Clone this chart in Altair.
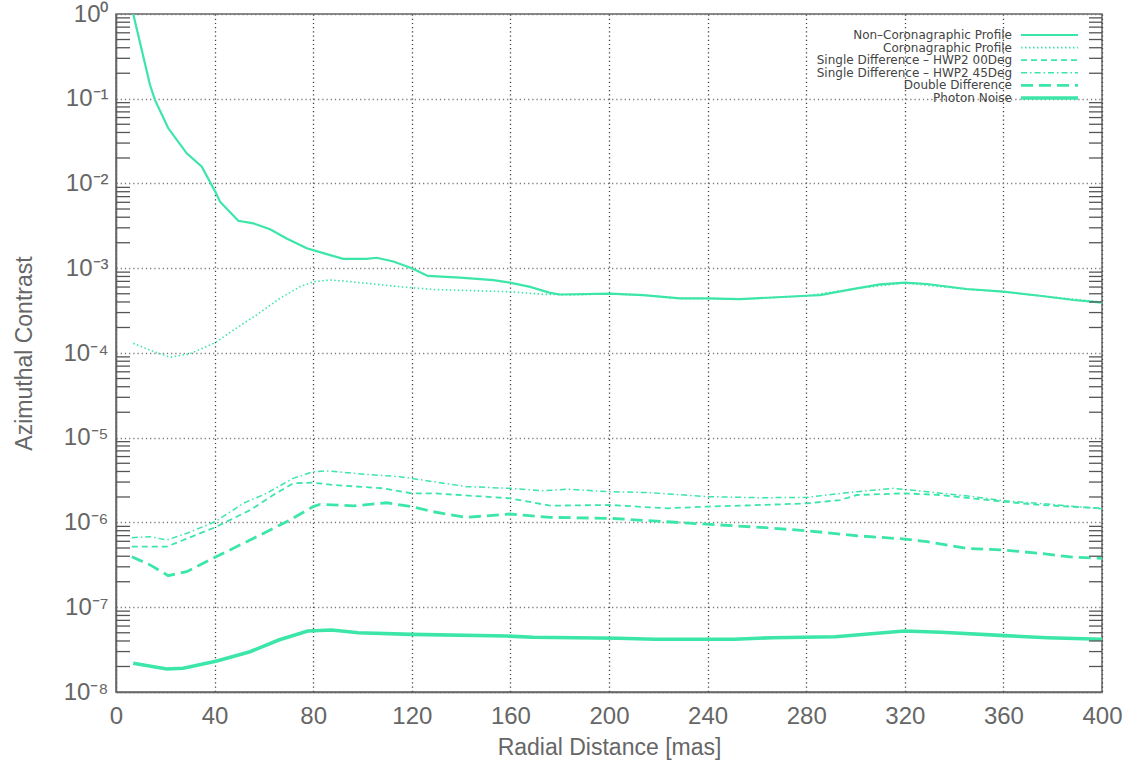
import altair as alt
import pandas as pd

# ---- data: radial distance [mas] and azimuthal contrast per profile ----
noncoro_x = [7, 13.8, 15.8, 21.2, 28.7, 34.8, 40.6, 42.2, 49.6, 55.7, 62.5, 69.2, 77.4,
             84.1, 92.2, 101.7, 105.7, 112.5, 120, 126.5, 139.6, 153.1, 159.8, 168,
             176.1, 180.1, 200.4, 213.9, 228.8, 239.6, 253.1, 280.2, 285.6, 300.5,
             309.9, 320.1, 328.9, 345.1, 360, 374.8, 388.4, 400]
noncoro_v = [1.0, 0.145, 0.097, 0.0448, 0.0227, 0.0158, 0.00766, 0.0061, 0.00363,
             0.00339, 0.00288, 0.00224, 0.00172, 0.00151, 0.00129, 0.00129, 0.00133,
             0.0012, 0.001, 0.000813, 0.000776, 0.000724, 0.000676, 0.000603,
             0.000513, 0.00049, 0.000501, 0.000483, 0.000442, 0.000442, 0.000432,
             0.000474, 0.000483, 0.000579, 0.000646, 0.000676, 0.000652, 0.000569,
             0.00053, 0.000474, 0.000422, 0.000393]

coro_x = [7, 13.8, 21.9, 30, 40.2, 47.6, 57.1, 66.5, 74.6, 80, 86.8, 92.2, 101.7,
          115.2, 128.7, 159.8, 173.3, 185, 200, 214, 229, 240, 253, 280, 300, 320,
          345, 360, 375, 400]
coro_v = [1.3e-4, 1.08e-4, 8.9e-5, 9.8e-5, 1.32e-4, 1.86e-4, 2.82e-4, 4.42e-4,
          6.05e-4, 6.93e-4, 7.26e-4, 7.08e-4, 6.64e-4, 6.05e-4, 5.62e-4, 5.28e-4,
          4.93e-4, 4.85e-4, 4.98e-4, 4.8e-4, 4.4e-4, 4.4e-4, 4.3e-4, 4.72e-4,
          5.75e-4, 6.7e-4, 5.65e-4, 5.28e-4, 4.72e-4, 4.0e-4]

sd00_x = [6.4, 20.6, 27.3, 40.2, 54.4, 63.8, 71.9, 80, 88.2, 108.5, 120, 128.7,
          159.8, 176.1, 200.4, 223.4, 239.6, 253.1, 280.2, 293.7, 300.5, 320.1,
          334.3, 360, 374.8, 400]
sd00_v = [5.19e-7, 5.19e-7, 6.21e-7, 8.77e-7, 1.40e-6, 2.11e-6, 2.90e-6, 2.95e-6,
          2.77e-6, 2.53e-6, 2.21e-6, 2.21e-6, 1.93e-6, 1.58e-6, 1.61e-6, 1.47e-6,
          1.54e-6, 1.58e-6, 1.68e-6, 1.84e-6, 2.11e-6, 2.21e-6, 2.11e-6, 1.76e-6,
          1.61e-6, 1.47e-6]

sd45_x = [6.4, 13.8, 20.6, 28.7, 40.2, 51.6, 61.1, 71.9, 80, 85.5, 101.7, 115.2,
          128.7, 142.2, 159.8, 173.3, 182.8, 200.4, 216.6, 239.6, 261.3, 280.2,
          300.5, 315.3, 328.9, 347.8, 360, 374.8, 400]
sd45_v = [6.62e-7, 6.81e-7, 6.21e-7, 7.45e-7, 1.02e-6, 1.68e-6, 2.21e-6, 3.32e-6,
          3.98e-6, 4.06e-6, 3.70e-6, 3.47e-6, 3.03e-6, 2.65e-6, 2.53e-6, 2.37e-6,
          2.47e-6, 2.31e-6, 2.25e-6, 2.02e-6, 1.96e-6, 1.98e-6, 2.31e-6, 2.53e-6,
          2.31e-6, 2.02e-6, 1.81e-6, 1.68e-6, 1.45e-6]

dd_x = [6.4, 13.8, 21.2, 28.7, 40.2, 54.4, 69.2, 80, 82.8, 96.3, 109.8, 120, 128.7,
        142.2, 159.8, 176.1, 200.4, 223.4, 239.6, 261.3, 280.2, 300.5, 320.1, 328.9,
        345.1, 360, 374.8, 388.4, 400]
dd_v = [3.95e-7, 3.16e-7, 2.36e-7, 2.63e-7, 3.89e-7, 6.21e-7, 1.02e-6, 1.54e-6,
        1.64e-6, 1.57e-6, 1.71e-6, 1.54e-6, 1.34e-6, 1.15e-6, 1.26e-6, 1.15e-6,
        1.12e-6, 1.02e-6, 9.55e-7, 8.77e-7, 8.0e-7, 6.98e-7, 6.38e-7, 5.94e-7,
        4.95e-7, 4.73e-7, 4.33e-7, 3.89e-7, 3.78e-7]

pn_x = [7, 20.6, 27.3, 40.9, 54.4, 66, 77.8, 87.5, 98.3, 119.8, 158.5, 169.2, 203.7,
        218.7, 251, 266, 291.8, 319.8, 334.8, 360.6, 377.8, 400]
pn_v = [2.18e-8, 1.87e-8, 1.91e-8, 2.32e-8, 2.99e-8, 4.11e-8, 5.25e-8, 5.40e-8,
        5.01e-8, 4.79e-8, 4.57e-8, 4.42e-8, 4.31e-8, 4.19e-8, 4.19e-8, 4.37e-8,
        4.49e-8, 5.25e-8, 5.06e-8, 4.62e-8, 4.37e-8, 4.19e-8]

x_ticks = [0, 40, 80, 120, 160, 200, 240, 280, 320, 360, 400]
y_ticks = [1e-8, 1e-7, 1e-6, 1e-5, 1e-4, 1e-3, 1e-2, 1e-1, 1.0]
minor_mult = [2, 3, 4, 5, 6, 7, 8, 9]
minor_exp = [-8, -7, -6, -5, -4, -3, -2, -1]

# series: (name, x, values, dash, width)
series = [
    ("Non\u2013Coronagraphic Profile", noncoro_x, noncoro_v, [], 2.2),
    ("Coronagraphic Profile", coro_x, coro_v, [1.5, 2.5], 1.6),
    ("Single Difference \u2013 HWP2 00Deg", sd00_x, sd00_v, [6, 4], 1.8),
    ("Single Difference \u2013 HWP2 45Deg", sd45_x, sd45_v, [6, 3, 1.5, 3], 1.5),
    ("Double Difference", dd_x, dd_v, [12, 6], 2.8),
    ("Photon Noise", pn_x, pn_v, [], 3.6),
]

COLOR = "#3ce6a8"
FONT = "Liberation Sans"
W, H = 986, 678
GRID_DASH = [1.2, 3]

sup = "['\u2070','\u00b9','\u00b2','\u00b3','\u2074','\u2075','\u2076','\u2077','\u2078']"
y_label_expr = ("'10' + (datum.value < 0.5 ? '\u207b' : '') + "
                + sup + "[round(-log(datum.value)/LN10)]")

x_enc = alt.X("x:Q",
              scale=alt.Scale(domain=[0, 400], nice=False, zero=False),
              axis=alt.Axis(values=x_ticks, title="Radial Distance [mas]",
                            grid=True, gridDash=GRID_DASH, gridColor="#444",
                            gridWidth=1.3, ticks=False, labelPadding=12,
                            labelFlush=False, titlePadding=8))
y_enc = alt.Y("v:Q",
              scale=alt.Scale(type="log", domain=[1e-8, 1], nice=False),
              axis=alt.Axis(values=y_ticks, labelExpr=y_label_expr,
                            title="Azimuthal Contrast", grid=True,
                            gridDash=GRID_DASH, gridColor="#777", gridWidth=1.3,
                            ticks=False, labelPadding=8, labelFlush=False,
                            titlePadding=26))

layers = []
for name, xs, vs, dash, width in series:
    df = pd.DataFrame({"x": xs, "v": vs})
    mk = dict(color=COLOR, strokeWidth=width, clip=True, interpolate="linear")
    if dash:
        mk["strokeDash"] = dash
    layers.append(alt.Chart(df).mark_line(**mk).encode(x=x_enc, y=y_enc))

# inward minor ticks on the left and right frame
minor_df = pd.DataFrame({"v": [m * 10.0 ** e for e in minor_exp for m in minor_mult]})
layers.append(alt.Chart(minor_df).mark_rule(color="#555", strokeWidth=1.3).encode(
    y=y_enc, x=alt.value(0), x2=alt.value(14)))
layers.append(alt.Chart(minor_df).mark_rule(color="#555", strokeWidth=1.3).encode(
    y=y_enc, x=alt.value(W - 13), x2=alt.value(W)))

# legend in the upper right corner
row0, step = 21, 12.6
for i, (name, xs, vs, dash, width) in enumerate(series):
    yy = row0 + step * i
    lab = pd.DataFrame({"label": [name]})
    layers.append(alt.Chart(lab).mark_text(
        align="right", baseline="middle", font="DejaVu Sans", fontSize=12,
        color="#444"
    ).encode(text="label:N", x=alt.value(896), y=alt.value(yy)))
    rk = dict(color=COLOR, strokeWidth=width)
    if dash:
        rk["strokeDash"] = dash
    layers.append(alt.Chart(lab).mark_rule(**rk).encode(
        x=alt.value(905), x2=alt.value(962), y=alt.value(yy)))

chart = alt.layer(*layers).properties(
    width=W, height=H,
    autosize=alt.AutoSizeParams(type="none"),
    padding={"left": 116, "top": 14, "right": 26, "bottom": 68},
    background="white",
).configure_view(
    stroke="#666", strokeWidth=1.5
).configure_axis(
    labelFont=FONT, titleFont=FONT, labelFontSize=24, titleFontSize=23,
    labelColor="#666", titleColor="#666", titleFontWeight="normal",
    domainColor="#666", domainWidth=1.5, gridDash=GRID_DASH
)

chart.save("out.html", embed_options={"renderer": "svg", "actions": False})
